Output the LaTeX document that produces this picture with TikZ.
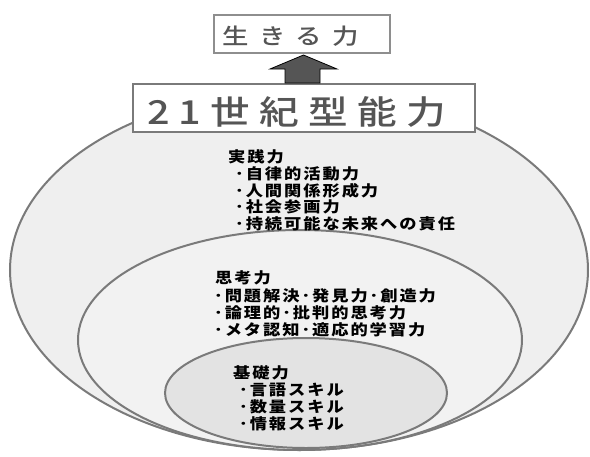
\documentclass[tikz,border=0pt]{standalone}
\usepackage{fontspec}
\newfontfamily\jp{Noto Sans CJK JP}[FakeStretch=1.15, LetterSpace=13]
\newfontfamily\jptitle{Noto Sans CJK JP Medium}[FakeStretch=1.2, LetterSpace=28]
\newfontfamily\jplife{Noto Sans CJK JP Medium}[FakeStretch=1.2, LetterSpace=48]
\definecolor{ringline}{HTML}{7A7A7A}
\definecolor{outerfill}{HTML}{EFEFEF}
\definecolor{midfill}{HTML}{F2F2F2}
\definecolor{innerfill}{HTML}{E3E3E3}
\definecolor{titlegray}{HTML}{555555}
\tikzset{
  ring/.style={draw=ringline, line width=2pt},
  titlebox/.style={draw=ringline, line width=2pt, fill=white, inner sep=0pt},
  head/.style={font=\jp\bfseries\fontsize{15}{17}\selectfont, anchor=west, inner sep=0pt},
  item/.style={font=\jp\bfseries\fontsize{15}{17}\selectfont, anchor=west, inner sep=0pt},
}
\begin{document}
\begin{tikzpicture}[x=1pt, y=-1pt]
\useasboundingbox (0,0) rectangle (590,456);
% rings
\draw[ring, fill=outerfill] (299,270) ellipse [x radius=289pt, y radius=180pt];
\draw[ring, fill=midfill] (300,340) ellipse [x radius=222pt, y radius=110pt];
\draw[ring, fill=innerfill] (306,393) ellipse [x radius=141pt, y radius=55pt];
% boxes
\node[titlebox, minimum width=342pt, minimum height=48pt, text depth=0pt] (big) at (304,108) {};
\node[inner sep=0pt, anchor=west] (bigtext) at (147,112)
  {\jptitle\fontsize{33}{36}\selectfont\color{titlegray}21世紀型能力};
\node[titlebox, draw=ringline!85, line width=1.5pt, minimum width=176pt, minimum height=38pt] (life) at (302,34) {};
\node[inner sep=0pt, anchor=west] (lifetext) at (222,36)
  {\jplife\fontsize{22}{24}\selectfont\color{titlegray}生きる力};
% arrow
\draw[fill=titlegray, draw=black, line width=0.8pt]
  (285,83) -- (285,69) -- (270,69) -- (303.5,55) -- (337,69) -- (320,69) -- (320,83) -- cycle;
% practice
\node[head] (p0) at (228,157) {実践力};
\node[item] (p1) at (235,174) {･自律的活動力};
\node[item] (p2) at (235,191) {･人間関係形成力};
\node[item] (p3) at (235,207) {･社会参画力};
\node[item] (p4) at (235,224) {･持続可能な未来への責任};
% thinking
\node[head] (t0) at (215,278) {思考力};
\node[item] (t1) at (214,296) {･問題解決･発見力･創造力};
\node[item] (t2) at (214,313) {･論理的･批判的思考力};
\node[item] (t3) at (214,330) {･メタ認知･適応的学習力};
% basics
\node[head] (b0) at (233,373) {基礎力};
\node[item] (b1) at (239,390) {･言語スキル};
\node[item] (b2) at (239,407) {･数量スキル};
\node[item] (b3) at (239,424) {･情報スキル};
\end{tikzpicture}
\end{document}
